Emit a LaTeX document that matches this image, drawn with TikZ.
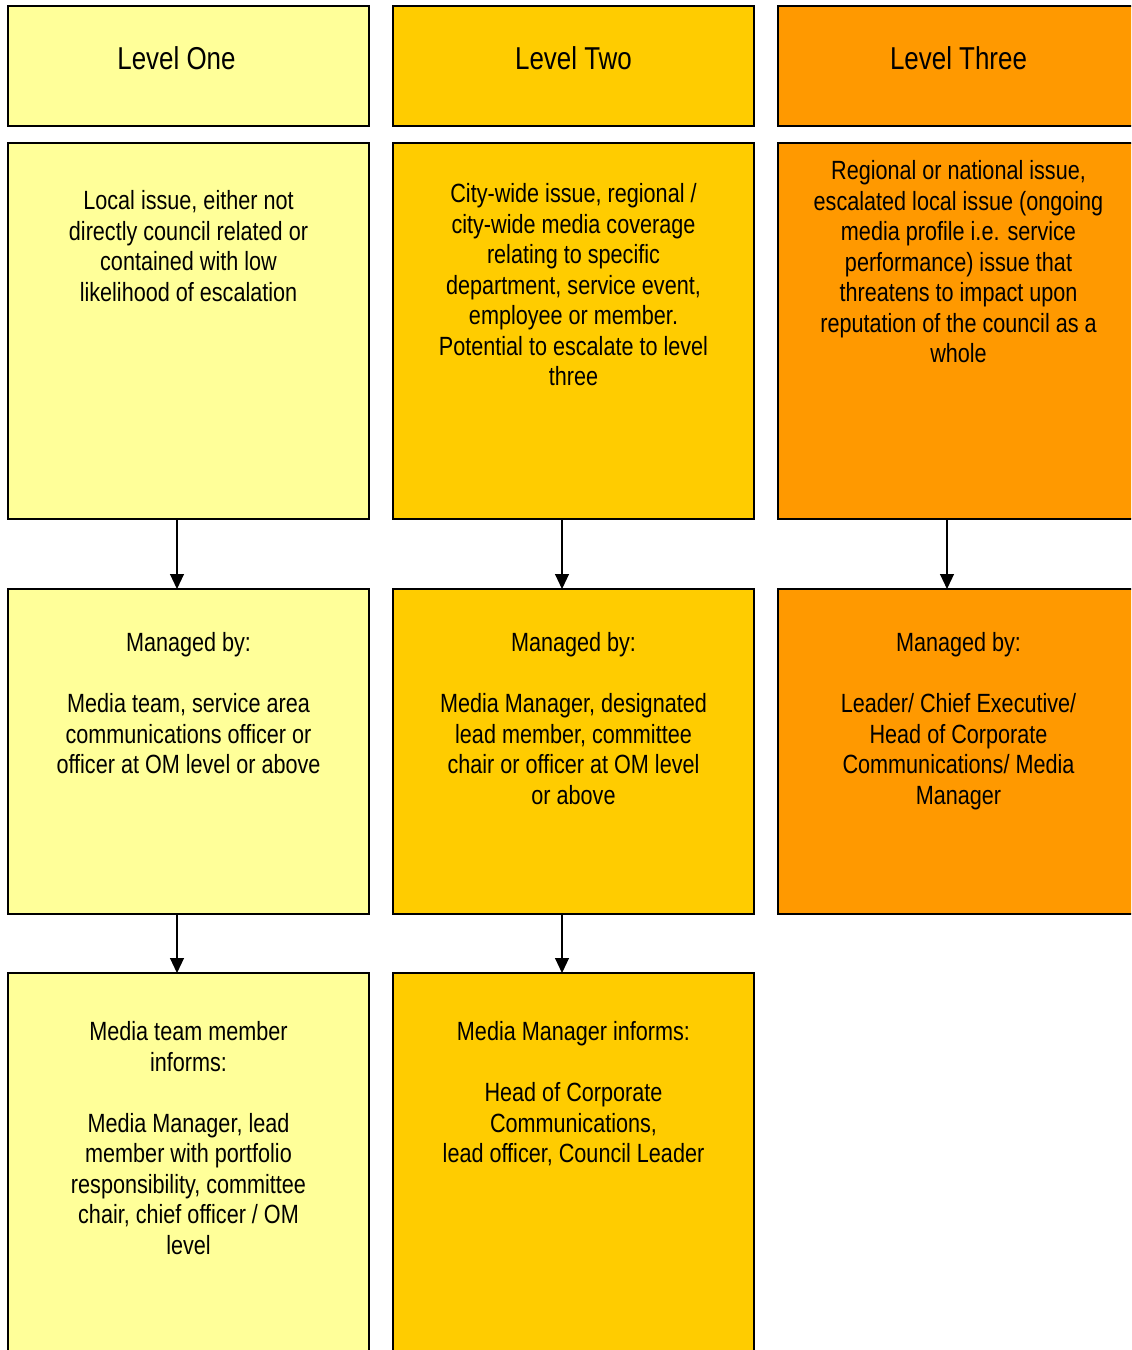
\documentclass[tikz,border=0pt]{standalone}
\usepackage{fontspec}
\setmainfont{Liberation Sans}[FakeStretch=0.82]
\usetikzlibrary{arrows.meta, positioning}
\definecolor{lvlone}{HTML}{FFFF99}
\definecolor{lvltwo}{HTML}{FFCC00}
\definecolor{lvlthree}{HTML}{FF9900}

\begin{document}
\begin{tikzpicture}[
  cell/.style={draw, line width=1.1pt, minimum width=7.22cm, inner sep=0pt, outer sep=0pt},
  head/.style={cell, minimum height=2.4cm},
  issue/.style={cell, minimum height=7.52cm},
  mgd/.style={cell, minimum height=6.5cm},
  inform/.style={cell, minimum height=8.5cm},
  htxt/.style={inner sep=0pt, font=\fontsize{18}{21.6}\selectfont},
  txt/.style={anchor=north, align=center, inner sep=0pt, font=\fontsize{15}{17.4}\selectfont},
  arr/.style={-{Triangle[length=0.3cm, width=0.28cm]}, line width=0.6pt}
]
\useasboundingbox (0,0) rectangle (22.62,-27);
\clip (0,0) rectangle (22.62,-27);

\node[head, fill=lvlone, anchor=north west] (hone) at (0.16,-0.12) {};
\node[head, fill=lvltwo, right=0.48cm of hone] (htwo) {};
\node[head, fill=lvlthree, right=0.48cm of htwo] (hthree) {};

\node[issue, fill=lvlone, below=0.34cm of hone] (ione) {};
\node[issue, fill=lvltwo, below=0.34cm of htwo] (itwo) {};
\node[issue, fill=lvlthree, below=0.34cm of hthree] (ithree) {};

\node[mgd, fill=lvlone, below=1.4cm of ione] (mone) {};
\node[mgd, fill=lvltwo, below=1.4cm of itwo] (mtwo) {};
\node[mgd, fill=lvlthree, below=1.4cm of ithree] (mthree) {};

\node[inform, fill=lvlone, below=1.18cm of mone] (fone) {};
\node[inform, fill=lvltwo, below=1.18cm of mtwo] (ftwo) {};

\node[htxt] (tone) at ([xshift=-0.24cm, yshift=0.15cm]hone.center) {Level One};
\node[htxt] (ttwo) at ([yshift=0.15cm]htwo.center) {Level Two};
\node[htxt] (tthree) at ([yshift=0.15cm]hthree.center) {Level Three};

\node[txt] (tlocal) at ([yshift=-0.94cm]ione.north) {Local issue, either not\\directly council related or\\contained with low\\likelihood of escalation};
\node[txt] (tcity) at ([yshift=-0.8cm]itwo.north) {City-wide issue, regional /\\city-wide media coverage\\relating to specific\\department, service event,\\employee or member.\\Potential to escalate to level\\three};
\node[txt] (tnational) at ([yshift=-0.34cm]ithree.north) {Regional or national issue,\\escalated local issue (ongoing\\media profile i.e. service\\performance) issue that\\threatens to impact upon\\reputation of the council as a\\whole};

\node[txt] (tmgdone) at ([yshift=-0.86cm]mone.north) {Managed by:\\[17.4pt]Media team, service area\\communications officer or\\officer at OM level or above};
\node[txt] (tmgdtwo) at ([yshift=-0.86cm]mtwo.north) {Managed by:\\[17.4pt]Media Manager, designated\\lead member, committee\\chair or officer at OM level\\or above};
\node[txt] (tmgdthree) at ([yshift=-0.86cm]mthree.north) {Managed by:\\[17.4pt]Leader/ Chief Executive/\\Head of Corporate\\Communications/ Media\\Manager};

\node[txt] (tinfone) at ([yshift=-0.96cm]fone.north) {Media team member\\informs:\\[17.4pt]Media Manager, lead\\member with portfolio\\responsibility, committee\\chair, chief officer / OM\\level};
\node[txt] (tinftwo) at ([yshift=-0.96cm]ftwo.north) {Media Manager informs:\\[17.4pt]Head of Corporate\\Communications,\\lead officer, Council Leader};

\draw[arr] ([xshift=-0.23cm]ione.south) -- ([xshift=-0.23cm]mone.north);
\draw[arr] ([xshift=-0.23cm]itwo.south) -- ([xshift=-0.23cm]mtwo.north);
\draw[arr] ([xshift=-0.23cm]ithree.south) -- ([xshift=-0.23cm]mthree.north);
\draw[arr] ([xshift=-0.23cm]mone.south) -- ([xshift=-0.23cm]fone.north);
\draw[arr] ([xshift=-0.23cm]mtwo.south) -- ([xshift=-0.23cm]ftwo.north);
\end{tikzpicture}
\end{document}
